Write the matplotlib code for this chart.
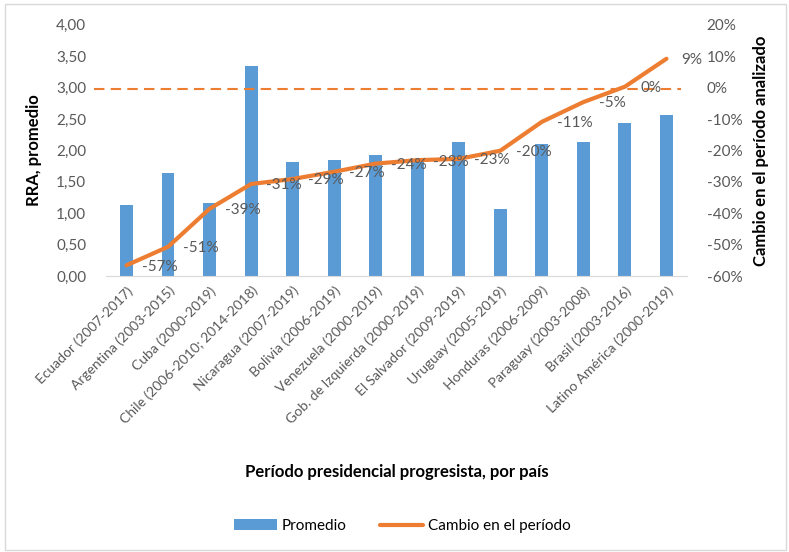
import numpy as np
import matplotlib.pyplot as plt
from matplotlib.patches import Rectangle
from matplotlib.ticker import FuncFormatter

plt.rcParams['font.family'] = ['Lato', 'DejaVu Sans']

# datos
paises = ['Ecuador (2007-2017)', 'Argentina (2003-2015)', 'Cuba (2000-2019)',
          'Chile (2006-2010; 2014-2018)', 'Nicaragua (2007-2019)', 'Bolivia (2006-2019)',
          'Venezuela (2000-2019)', 'Gob. de Izquierda (2000-2019)', 'El Salvador (2009-2019)',
          'Uruguay (2005-2019)', 'Honduras (2006-2009)', 'Paraguay (2003-2008)',
          'Brasil (2003-2016)', 'Latino América (2000-2019)']
promedio = [1.13, 1.64, 1.17, 3.35, 1.82, 1.84, 1.92, 1.82, 2.13, 1.06, 2.11, 2.14, 2.43, 2.57]
cambio = [-56.6, -50.7, -38.6, -30.7, -29.1, -26.8, -24.2, -23.1, -22.7, -20.1, -10.9, -4.6, 0.3, 9.2]

gris = '#595959'
azul = '#5B9BD5'
naranja = '#ED7D31'

fig = plt.figure(figsize=(7.89, 5.52), dpi=100)
ax = fig.add_axes([0.134, 0.5, 0.737, 0.455])
x = np.arange(len(paises))

ax.bar(x, promedio, width=0.31, color=azul, label='Promedio', zorder=2)
ax.set_ylim(0, 4)
ax.set_yticks(np.arange(0, 4.01, 0.5))
ax.yaxis.set_major_formatter(FuncFormatter(lambda v, p: f'{v:.2f}'.replace('.', ',')))
ax.set_xlim(-0.5, len(paises) - 0.5)
ax.set_xticks(x)
ax.set_xticklabels(paises, rotation=45, ha='right', rotation_mode='anchor', fontsize=10, color=gris)
ax.tick_params(axis='x', length=0, pad=6)
ax.tick_params(axis='y', length=0, pad=14, labelsize=11, labelcolor=gris)
for s in ['top', 'right', 'left']:
    ax.spines[s].set_visible(False)
ax.spines['bottom'].set_color('#D9D9D9')
ax.set_ylabel('RRA, promedio', fontsize=12, fontweight='bold', labelpad=10)
ax.set_xlabel('Período presidencial progresista, por país', fontsize=12, fontweight='bold', labelpad=27)

ax2 = ax.twinx()
ax2.set_ylim(-60, 20)
ax2.set_yticks(np.arange(-60, 21, 10))
ax2.yaxis.set_major_formatter(FuncFormatter(lambda v, p: f'{v:.0f}%'))
ax2.tick_params(axis='y', length=0, pad=14, labelsize=11, labelcolor=gris)
for s in ['top', 'right', 'left', 'bottom']:
    ax2.spines[s].set_visible(False)
ax2.axhline(-0.5, xmin=-0.02, xmax=0.99, color=naranja, lw=1.5, ls=(0, (5, 3)), clip_on=False)
ax2.plot(x, cambio, color=naranja, lw=3, label='Cambio en el período', solid_capstyle='round', zorder=3)
for xi, c in zip(x, cambio):
    ax2.annotate(f'{c:.0f}%'.replace('-0%', '0%'), (xi, c), xytext=(11, -1), textcoords='offset points',
                 ha='left', va='center', fontsize=11, color=gris)
ax2.set_ylabel('Cambio en el período analizado', fontsize=12, fontweight='bold', labelpad=8)

h1, l1 = ax.get_legend_handles_labels()
h2, l2 = ax2.get_legend_handles_labels()
fig.legend(h1 + h2, l1 + l2, loc='center', bbox_to_anchor=(0.51, 0.047), ncol=2, frameon=False,
           fontsize=11, handlelength=2.8, columnspacing=2.2, handletextpad=0.3)

fig.patches.append(Rectangle((0.006, 0.004), 0.99, 0.989, transform=fig.transFigure,
                             fill=False, edgecolor='#D9D9D9', lw=1))

fig.savefig('out.png', dpi=100)
